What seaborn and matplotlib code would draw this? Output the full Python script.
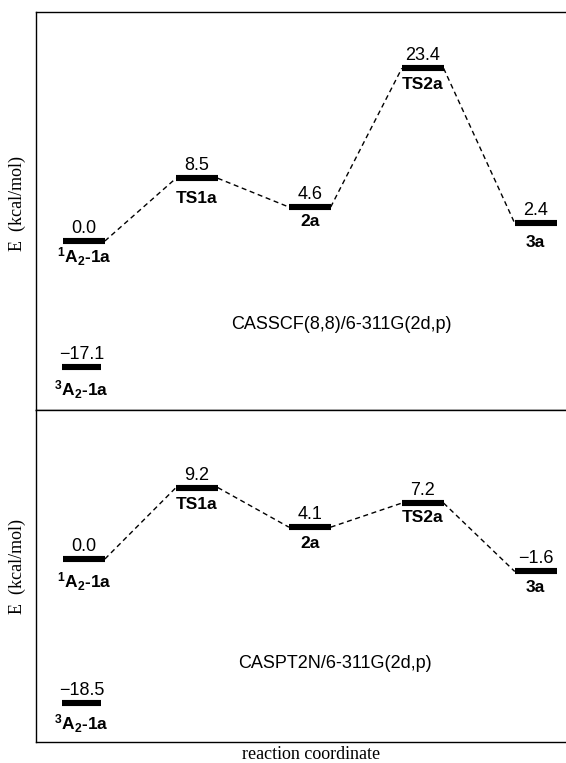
import matplotlib
matplotlib.use("Agg")
import matplotlib.pyplot as plt
import seaborn as sns
import pandas as pd

# ---------------- data ----------------
states = ["1A2-1a", "TS1a", "2a", "TS2a", "3a"]
state_labels = [r"$^{1}$A$_{2}$-1a", "TS1a", "2a", "TS2a", "3a"]
casscf_E = [0.0, 8.5, 4.6, 23.4, 2.4]
casscf_triplet_E = -17.1
caspt2_E = [0.0, 9.2, 4.1, 7.2, -1.6]
caspt2_triplet_E = -18.5
triplet_label = r"$^{3}$A$_{2}$-1a"
methods = ["CASSCF(8,8)/6-311G(2d,p)", "CASPT2N/6-311G(2d,p)"]
ylabel = "E  (kcal/mol)"
xlabel = "reaction coordinate"

# ---------------- style ----------------
sns.set_style("white")
plt.rcParams["font.family"] = ["Liberation Sans", "DejaVu Sans"]
plt.rcParams["text.color"] = "black"
plt.rcParams["mathtext.fontset"] = "custom"
plt.rcParams["mathtext.rm"] = "Liberation Sans:bold"
plt.rcParams["mathtext.it"] = "Liberation Sans:bold"
plt.rcParams["mathtext.bf"] = "Liberation Sans:bold"

W, H = 566, 763
fig = plt.figure(figsize=(W / 100, H / 100), dpi=100)
fig.patch.set_facecolor("white")


def fx(px):
    return px / W


def fy(py):
    return 1 - py / H


left = 36
ax_top = fig.add_axes([fx(left), fy(410), fx(W - left), (410 - 12) / H])
ax_bot = fig.add_axes([fx(left), fy(742), fx(W - left), (742 - 410) / H])

HW = 0.185  # half width of a level bar (x units)
LEVEL_LW = 4.4
DASH = (0, (3.6, 2.6))


def fmt(v):
    return f"{v:.1f}".replace("-", "\u2212")


def draw_panel(ax, energies, trip_E, ylim, name_off, trip_off, method, mpos):
    xs = list(range(len(energies)))
    # levels (long form)
    rows = []
    for i, (s, e) in enumerate(zip(states, energies)):
        rows.append(dict(state=s, x=xs[i] - HW, E=e))
        rows.append(dict(state=s, x=xs[i] + HW, E=e))
    rows.append(dict(state="3A2", x=-0.02 - 0.175, E=trip_E))
    rows.append(dict(state="3A2", x=-0.02 + 0.175, E=trip_E))
    lev = pd.DataFrame(rows)
    sns.lineplot(data=lev, x="x", y="E", units="state", estimator=None,
                 color="black", lw=LEVEL_LW, solid_capstyle="butt", ax=ax,
                 legend=False)
    # connectors
    crow = []
    for i in range(len(energies) - 1):
        crow.append(dict(seg=i, x=xs[i] + HW, E=energies[i]))
        crow.append(dict(seg=i, x=xs[i + 1] - HW, E=energies[i + 1]))
    con = pd.DataFrame(crow)
    sns.lineplot(data=con, x="x", y="E", units="seg", estimator=None,
                 color="black", lw=1.0, linestyle=DASH, ax=ax, legend=False)
    # labels
    for i, e in enumerate(energies):
        ax.annotate(fmt(e), (xs[i], e), xytext=(0, 8), textcoords="offset pixels",
                    ha="center", va="baseline", fontsize=13, color="black")
        ax.annotate(state_labels[i], (xs[i], e), xytext=(0, -name_off[i]),
                    textcoords="offset pixels", ha="center", va="top",
                    fontsize=12.5, fontweight="bold", color="black")
    ax.annotate(fmt(trip_E), (-0.02, trip_E), xytext=(0, 8), textcoords="offset pixels",
                ha="center", va="baseline", fontsize=13, color="black")
    ax.annotate(triplet_label, (-0.02, trip_E), xytext=(0, -trip_off),
                textcoords="offset pixels", ha="center", va="top",
                fontsize=12.5, fontweight="bold", color="black")
    ax.text(mpos[0], mpos[1], method, transform=ax.transData, ha="center",
            va="center", fontsize=13, color="black")
    ax.set_xlim(-0.425, 4.269)
    ax.set_ylim(*ylim)
    ax.set_xticks([])
    ax.set_yticks([])
    ax.set_xlabel("")
    ax.set_ylabel("")
    ax.set_facecolor("white")
    for side in ["left", "top", "bottom"]:
        ax.spines[side].set_visible(True)
        ax.spines[side].set_color("black")
        ax.spines[side].set_linewidth(1.0)
    ax.spines["right"].set_visible(False)


draw_panel(ax_top, casscf_E, casscf_triplet_E, (-22.90, 31.03),
           [4, 13, 7, 9, 12], 11, methods[0], (2.28, -11.3))
draw_panel(ax_bot, caspt2_E, caspt2_triplet_E, (-23.55, 19.18),
           [11, 9.5, 9, 7, 9], 10, methods[1], (2.22, -13.4))

serif = ["Liberation Serif", "DejaVu Serif"]
fig.text(fx(17), fy(203.5), ylabel, rotation=90, ha="center", va="center",
         fontsize=13, family=serif, color="black")
fig.text(fx(17), fy(566.5), ylabel, rotation=90, ha="center", va="center",
         fontsize=13, family=serif, color="black")
fig.text(fx(311), fy(759), xlabel, ha="center", va="baseline",
         fontsize=13, family=serif, color="black")

fig.savefig("out.png", dpi=100, facecolor="white")
